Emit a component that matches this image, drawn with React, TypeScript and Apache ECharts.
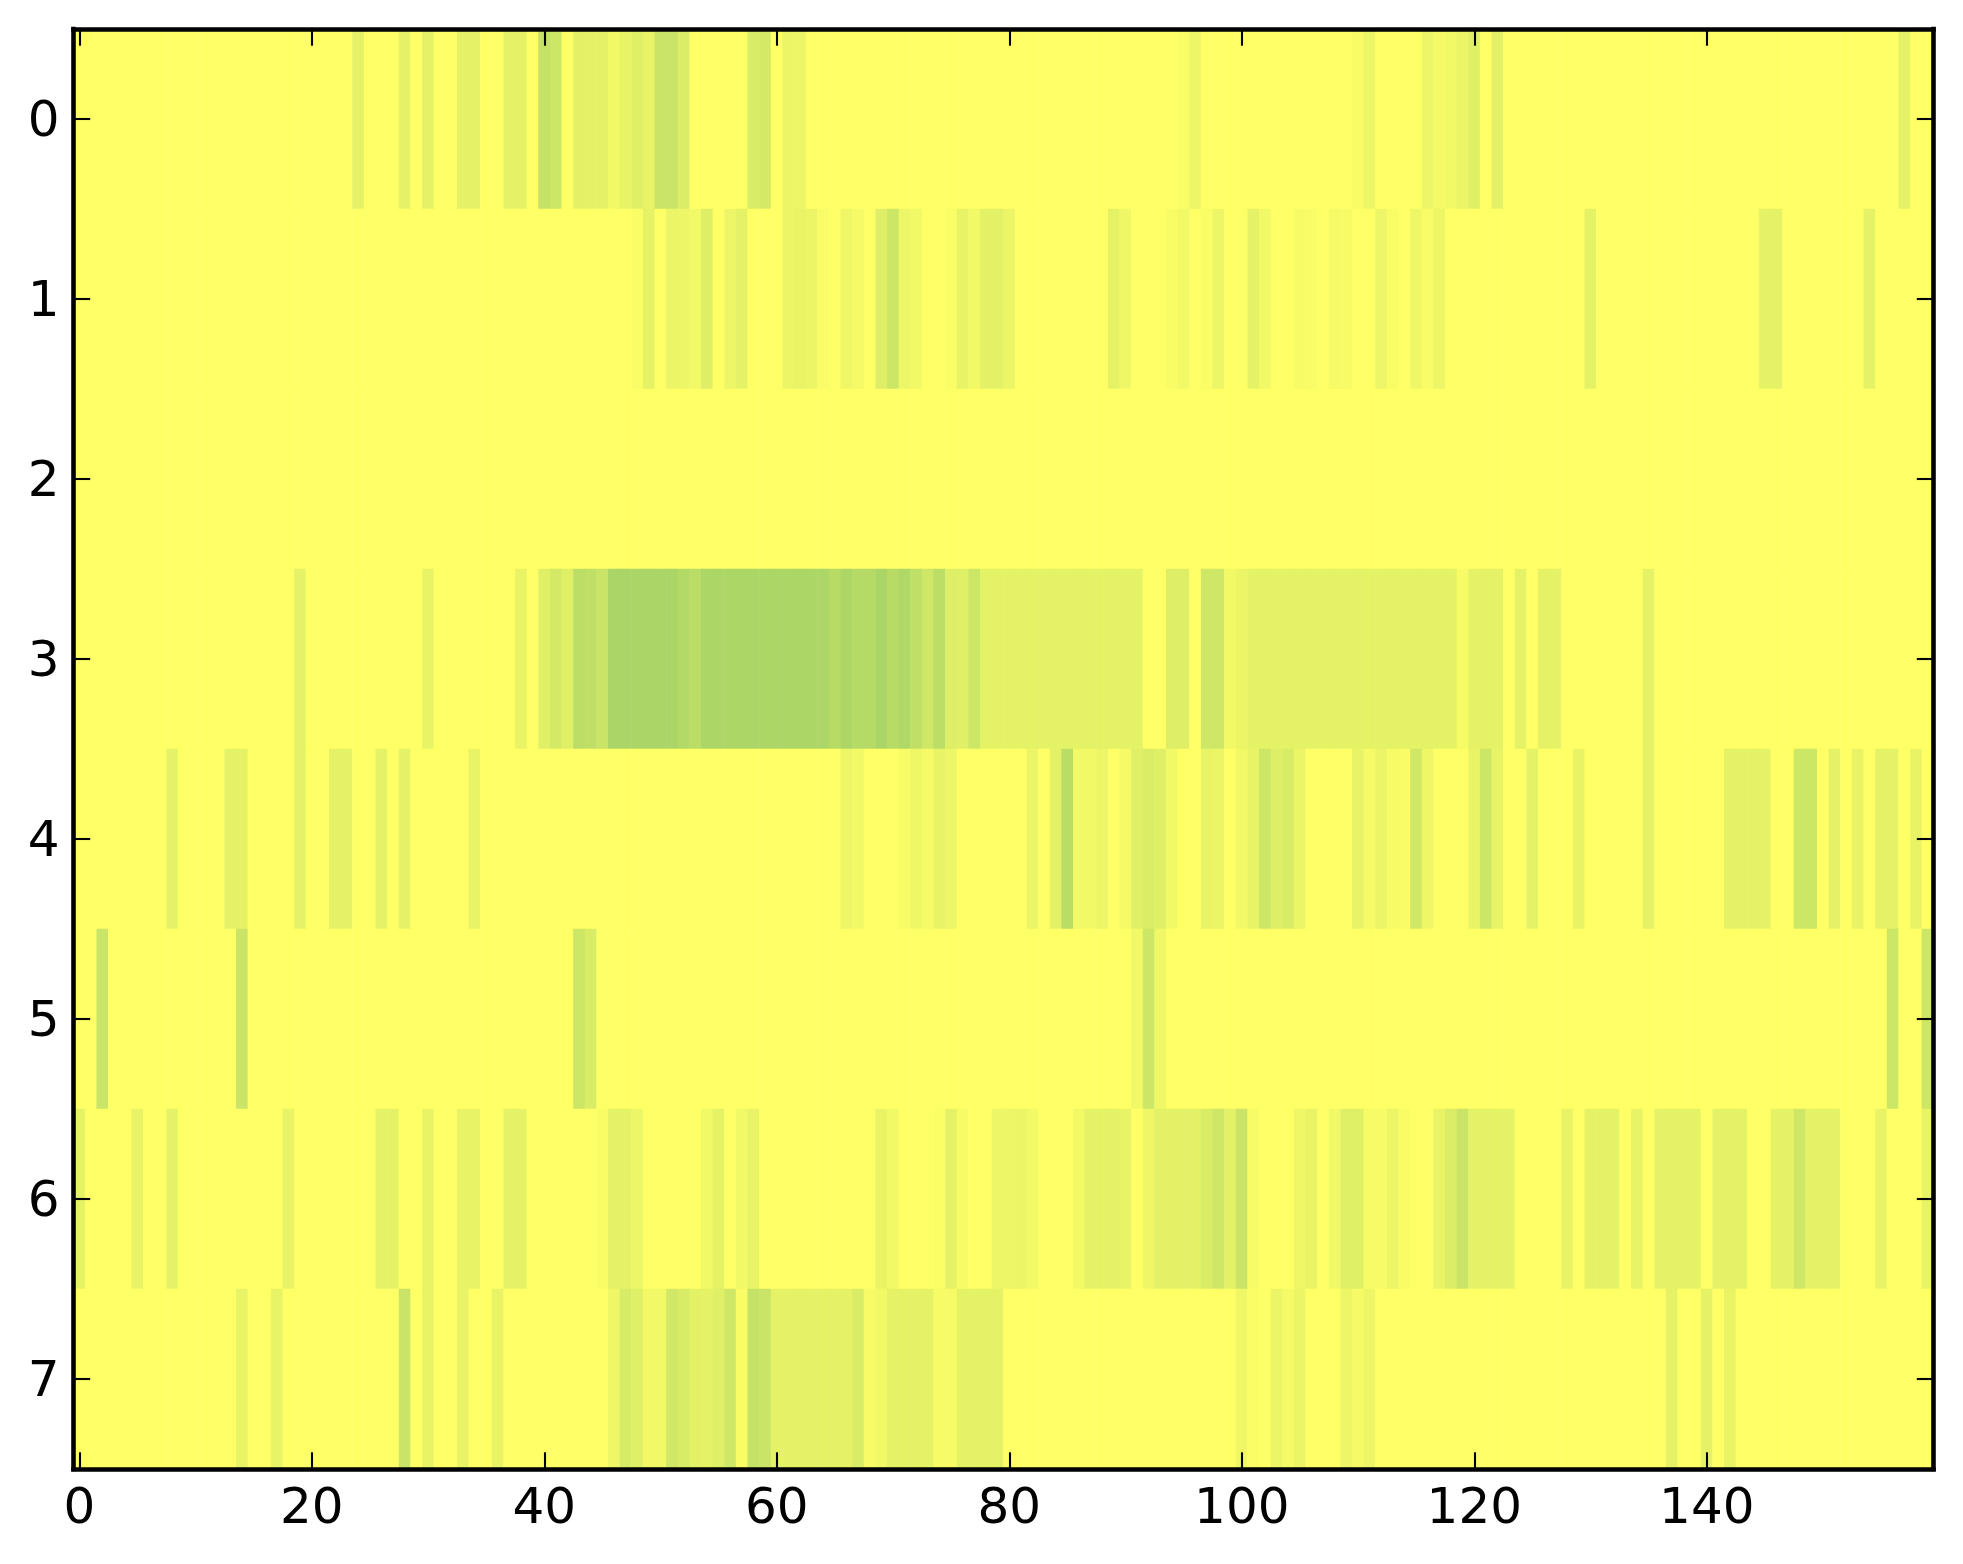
import React, { useEffect, useRef } from "react";
import * as echarts from "echarts";

const xCategories: string[] = Array.from({ length: 160 }, (_, i) => String(i));
const yCategories: string[] = ["0", "1", "2", "3", "4", "5", "6", "7"];

// Non-zero cells of each row as [column, value]; every other cell is 0.
const row0 = [[24,.1],[28,.1],[30,.1],[33,.1],[34,.1],[37,.1],[38,.1],[40,.23],[41,.2],[43,.11],[44,.1],[45,.1],[46,.05],[47,.09],[48,.12],[49,.09],[50,.21],[51,.21],[52,.14],[58,.15],[59,.17],[61,.08],[62,.07],[95,.015],[96,.07],[110,.02],[111,.07],[116,.07],[117,.04],[118,.05],[119,.08],[120,.12],[122,.11],[157,.1]];
const row1 = [[48,.015],[49,.1],[51,.08],[52,.07],[53,.05],[54,.13],[56,.07],[57,.1],[61,.08],[62,.09],[63,.08],[64,.025],[66,.06],[67,.04],[69,.13],[70,.2],[71,.07],[72,.05],[75,.015],[76,.09],[77,.05],[78,.11],[79,.11],[80,.08],[89,.1],[90,.06],[94,.02],[95,.05],[97,.015],[98,.07],[101,.1],[102,.05],[105,.03],[106,.025],[108,.04],[109,.03],[112,.07],[113,.02],[115,.06],[116,.025],[117,.07],[130,.1],[145,.1],[146,.1],[154,.1]];
const row2: number[][] = [];
const row3 = [[19,.1],[30,.09],[38,.09],[40,.12],[41,.17],[42,.12],[43,.26],[44,.25],[45,.21],[46,.33],[47,.33],[48,.33],[49,.33],[50,.33],[51,.33],[52,.3],[53,.27],[54,.325],[55,.325],[56,.325],[57,.325],[58,.325],[59,.325],[60,.325],[61,.325],[62,.325],[63,.325],[64,.325],[65,.28],[66,.32],[67,.29],[68,.29],[69,.33],[70,.28],[71,.31],[72,.25],[73,.19],[74,.26],[75,.13],[76,.12],[77,.2],[78,.105],[79,.105],[80,.105],[81,.105],[82,.105],[83,.105],[84,.105],[85,.105],[86,.105],[87,.105],[88,.105],[89,.105],[90,.105],[91,.105],[94,.13],[95,.13],[97,.19],[98,.19],[99,.05],[100,.08],[101,.105],[102,.105],[103,.105],[104,.105],[105,.105],[106,.105],[107,.105],[108,.105],[109,.105],[110,.105],[111,.105],[112,.105],[113,.105],[114,.105],[115,.105],[116,.105],[117,.105],[118,.105],[119,.03],[120,.1],[121,.1],[122,.1],[124,.1],[126,.1],[127,.1],[135,.1]];
const row4 = [[8,.1],[13,.1],[14,.1],[19,.1],[22,.1],[23,.1],[26,.1],[28,.1],[34,.09],[66,.07],[67,.05],[71,.035],[72,.06],[73,.04],[74,.09],[75,.07],[82,.08],[84,.11],[85,.27],[86,.05],[87,.05],[88,.07],[90,.04],[91,.12],[92,.14],[93,.12],[94,.05],[97,.09],[98,.08],[100,.05],[101,.09],[102,.2],[103,.13],[104,.15],[105,.08],[110,.09],[111,.04],[112,.08],[113,.03],[114,.025],[115,.18],[116,.06],[120,.09],[121,.2],[122,.09],[125,.1],[129,.09],[135,.1],[142,.1],[143,.1],[144,.1],[145,.1],[148,.2],[149,.2],[151,.1],[153,.09],[155,.1],[156,.1],[158,.09]];
const row5 = [[2,.21],[14,.21],[43,.2],[44,.15],[91,.05],[92,.2],[93,.06],[156,.2],[159,.2]];
const row6 = [[0,.1],[5,.09],[8,.1],[18,.09],[26,.1],[27,.1],[30,.09],[33,.09],[34,.09],[37,.1],[38,.1],[45,.02],[46,.1],[47,.1],[48,.07],[54,.05],[55,.1],[57,.05],[58,.09],[69,.09],[70,.05],[74,.01],[75,.1],[76,.035],[79,.07],[80,.07],[81,.08],[82,.05],[86,.05],[87,.1],[88,.1],[89,.1],[90,.09],[92,.06],[93,.11],[94,.11],[95,.11],[96,.11],[97,.15],[98,.19],[99,.11],[100,.21],[101,.035],[105,.06],[106,.09],[108,.05],[109,.12],[110,.12],[111,.03],[112,.03],[113,.08],[114,.02],[117,.09],[118,.14],[119,.21],[120,.105],[121,.105],[122,.105],[123,.105],[128,.09],[130,.1],[131,.1],[132,.1],[134,.09],[136,.1],[137,.1],[138,.1],[139,.1],[141,.1],[142,.1],[143,.1],[146,.1],[147,.1],[148,.19],[149,.1],[150,.1],[151,.1],[155,.09],[159,.09]];
const row7 = [[14,.09],[17,.09],[28,.21],[30,.09],[33,.09],[36,.09],[46,.06],[47,.16],[48,.12],[49,.05],[50,.05],[51,.18],[52,.15],[53,.11],[54,.1],[55,.12],[56,.19],[57,.02],[58,.23],[59,.21],[60,.1],[61,.1],[62,.1],[63,.1],[64,.1],[65,.1],[66,.1],[67,.15],[68,.03],[69,.05],[70,.1],[71,.1],[72,.1],[73,.1],[74,.03],[75,.03],[76,.105],[77,.105],[78,.105],[79,.105],[100,.06],[101,.015],[103,.08],[104,.04],[105,.08],[109,.07],[110,.04],[111,.07],[137,.1],[140,.1],[142,.09]];

const rows = [row0, row1, row2, row3, row4, row5, row6, row7];

const lineStyle = { color: "#000", width: 4.6, cap: "square" as const };
const tickStyle = { color: "#000", width: 2.1 };
const every20 = (i: number) => i % 20 === 0;

export default function App() {
  const ref = useRef<HTMLDivElement>(null);
  useEffect(() => {
    document.body.style.margin = "0";
    const chart = echarts.init(ref.current!, undefined, { renderer: "svg" });
    const data: number[][] = [];
    rows.forEach((row, y) => {
      const byCol = new Map(row.map(([c, v]) => [c, v]));
      xCategories.forEach((_, x) => data.push([x, y, byCol.get(x) ?? 0]));
    });
    const labelFont = { fontFamily: "DejaVu Sans", fontSize: 50, color: "#000" };
    chart.setOption({
      animation: false,
      backgroundColor: "#fff",
      grid: { left: 73.5, top: 29, width: 1860, height: 1440, containLabel: false },
      xAxis: [
        {
          type: "category", data: xCategories, position: "bottom", z: 10, zlevel: 1,
          axisLine: { onZero: false, lineStyle },
          axisTick: { show: true, inside: true, length: 16.7, alignWithLabel: true, interval: every20, lineStyle: tickStyle },
          axisLabel: { ...labelFont, interval: every20, margin: 12 },
          splitLine: { show: false },
        },
        {
          type: "category", data: xCategories, position: "top", z: 10, zlevel: 1,
          axisLine: { onZero: false, lineStyle },
          axisTick: { show: true, inside: true, length: 16.7, alignWithLabel: true, interval: every20, lineStyle: tickStyle },
          axisLabel: { show: false },
          splitLine: { show: false },
        },
      ],
      yAxis: [
        {
          type: "category", data: yCategories, inverse: true, position: "left", z: 10, zlevel: 1,
          axisLine: { onZero: false, lineStyle },
          axisTick: { show: true, inside: true, length: 16.7, alignWithLabel: true, interval: 0, lineStyle: tickStyle },
          axisLabel: { ...labelFont, interval: 0, margin: 14, padding: [0, 0, 5, 0] },
          splitLine: { show: false },
        },
        {
          type: "category", data: yCategories, inverse: true, position: "right", z: 10, zlevel: 1,
          axisLine: { onZero: false, lineStyle },
          axisTick: { show: true, inside: true, length: 16.7, alignWithLabel: true, interval: 0, lineStyle: tickStyle },
          axisLabel: { show: false },
          splitLine: { show: false },
        },
      ],
      visualMap: {
        show: false, type: "continuous", min: 0, max: 1, dimension: 2, seriesIndex: 0,
        inRange: { color: ["#ffff66", "#008066"] },
      },
      series: [
        {
          type: "heatmap", xAxisIndex: 0, yAxisIndex: 0, data, progressive: 0, z: 0,
          itemStyle: { borderWidth: 0 }, emphasis: { disabled: true },
        },
      ],
    });
    return () => chart.dispose();
  }, []);
  return <div ref={ref} style={{ width: 1963, height: 1564 }} />;
}
